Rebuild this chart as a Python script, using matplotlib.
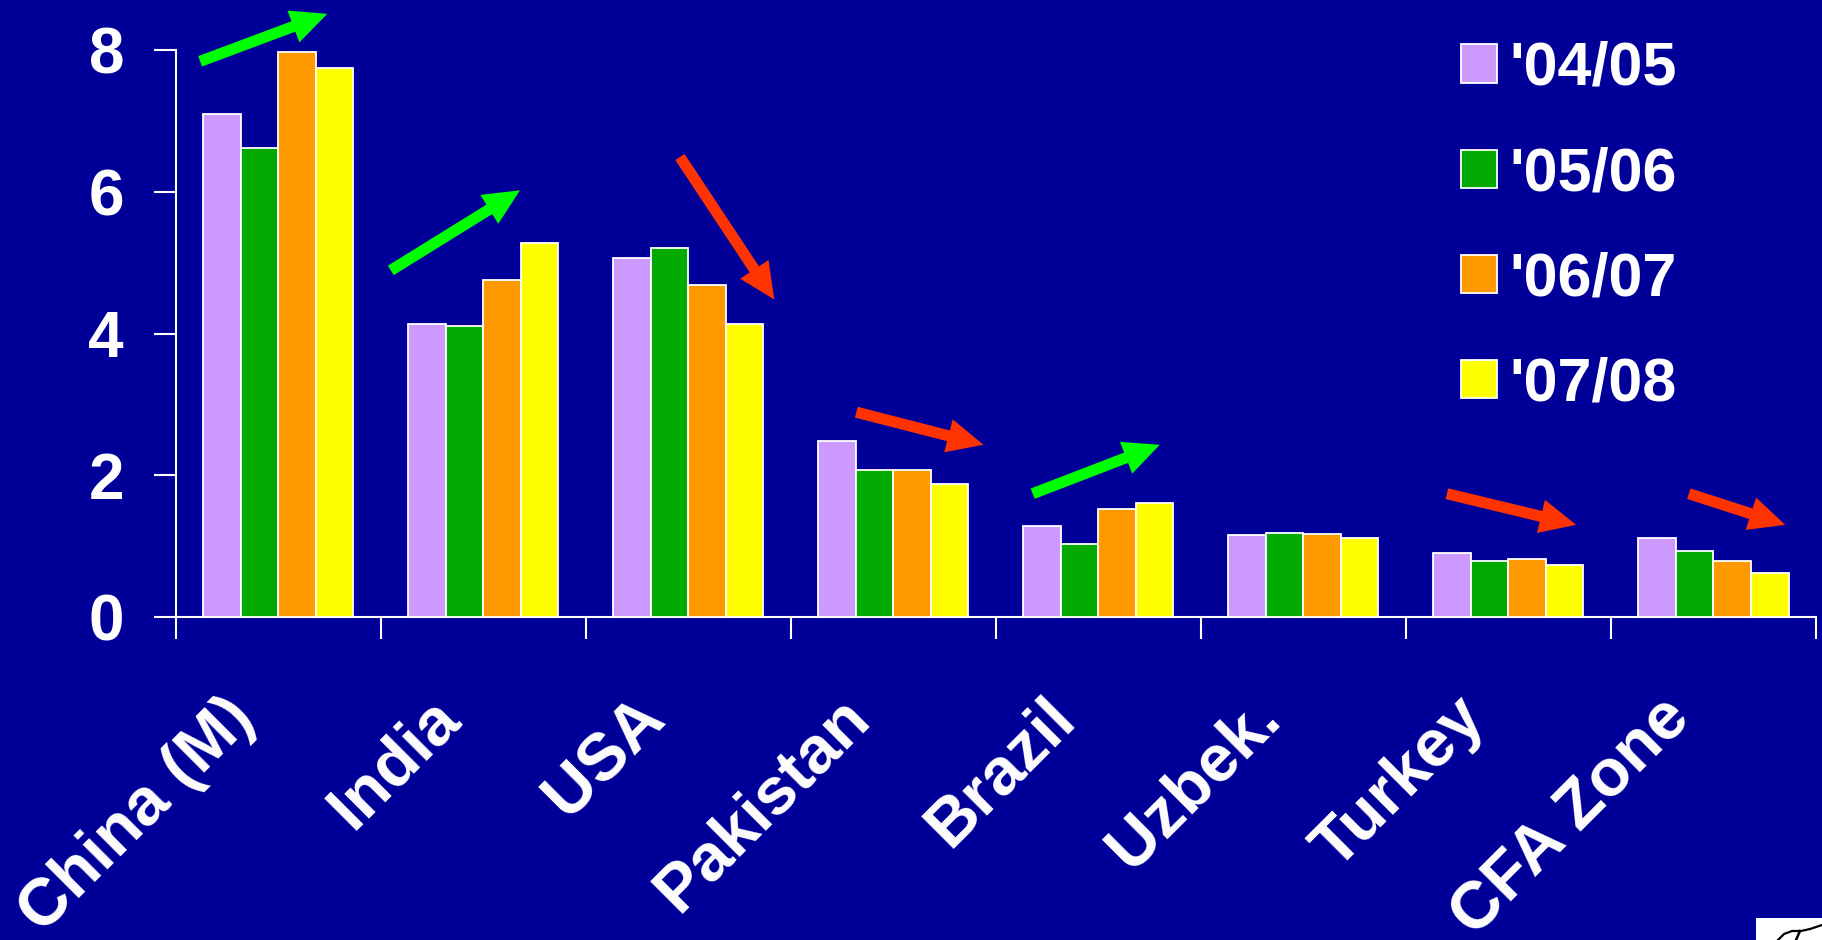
import matplotlib
matplotlib.use("Agg")
import matplotlib.pyplot as plt
from matplotlib.patches import FancyArrowPatch, Patch, Rectangle
from matplotlib.lines import Line2D
from matplotlib.transforms import ScaledTranslation
import numpy as np

# Cotton production by country (million tonnes), four marketing years
countries = ["China (M)", "India", "USA", "Pakistan", "Brazil", "Uzbek.", "Turkey", "CFA Zone"]
seasons = ["'04/05", "'05/06", "'06/07", "'07/08"]
y0405 = [7.10, 4.13, 5.07, 2.49, 1.28, 1.15, 0.91, 1.12]
y0506 = [6.62, 4.10, 5.20, 2.08, 1.03, 1.19, 0.79, 0.93]
y0607 = [7.97, 4.75, 4.69, 2.08, 1.52, 1.17, 0.82, 0.79]
y0708 = [7.74, 5.28, 4.13, 1.87, 1.61, 1.12, 0.74, 0.62]
yticks = [0, 2, 4, 6, 8]

# Trend arrows: (tail x, tail y, head x, head y, rising?)
trend_arrows = [
    (-0.38, 7.84, 0.24, 8.51, True),
    (0.55, 4.89, 1.18, 6.02, True),
    (1.96, 6.49, 2.42, 4.48, False),
    (2.82, 2.89, 3.44, 2.43, False),
    (3.68, 1.74, 4.30, 2.43, True),
    (5.70, 1.74, 6.33, 1.30, False),
    (6.88, 1.74, 7.35, 1.30, False),
]

BG = "#000099"
bar_colors = ["#CC99FF", "#00AA00", "#FF9900", "#FFFF00"]
UP, DOWN = "#00FF00", "#FF3300"
FONT = "Liberation Sans"

W, H = 1822, 940
fig = plt.figure(figsize=(W / 100, H / 100), dpi=100, facecolor=BG)
ax = fig.add_axes([175.5 / W, 1 - 617 / H, (1816 - 175.5) / W, (617 - 50) / H])
ax.set_facecolor(BG)

x = np.arange(len(countries))
bw = 0.183
series = [y0405, y0506, y0607, y0708]
for i, (vals, col, lab) in enumerate(zip(series, bar_colors, seasons)):
    ax.bar(x + (i - 1.5) * bw, vals, width=bw, color=col, edgecolor="white",
           linewidth=1.3, label=lab, zorder=3)

ax.set_xlim(-0.5, len(countries) - 0.5)
ax.set_ylim(0, 8)

for s in ["top", "right"]:
    ax.spines[s].set_visible(False)
for s in ["left", "bottom"]:
    ax.spines[s].set_color("white")
    ax.spines[s].set_linewidth(1.5)

ax.set_yticks(yticks)
ax.set_yticklabels([str(v) for v in yticks])
ax.tick_params(axis="y", colors="white", length=16, width=1.5, pad=21,
               labelsize=46)
for lbl in ax.get_yticklabels():
    lbl.set_fontfamily(FONT)
    lbl.set_fontweight("bold")

ax.set_xticks(x)
ax.set_xticks(np.arange(-0.5, len(countries)), minor=True)
ax.tick_params(axis="x", which="major", length=0, pad=50, colors="white", labelsize=48)
ax.tick_params(axis="x", which="minor", length=16, width=1.5, color="white")
ax.set_xticklabels(countries, rotation=45, ha="right", va="top",
                   rotation_mode="anchor")
shift = ScaledTranslation(-55 / 100, 0, fig.dpi_scale_trans)
for lbl in ax.get_xticklabels():
    lbl.set_fontfamily(FONT)
    lbl.set_fontweight("bold")
    lbl.set_transform(lbl.get_transform() + shift)

for x0, y0, x1, y1, rising in trend_arrows:
    arr = FancyArrowPatch((x0, y0), (x1, y1),
                          arrowstyle="simple,head_length=2.6,head_width=2.45,tail_width=0.8",
                          mutation_scale=10, color=UP if rising else DOWN,
                          linewidth=0, clip_on=False, zorder=4,
                          shrinkA=0, shrinkB=0)
    ax.add_patch(arr)

handles = [Patch(facecolor=c, edgecolor="white", linewidth=1.3) for c in bar_colors]
leg = fig.legend(handles, seasons, loc="upper left",
                 bbox_to_anchor=(1461 / W, 1 - 41 / H), frameon=False,
                 borderpad=0, borderaxespad=0, handlelength=0.59, handleheight=0.59,
                 handletextpad=0.2, labelspacing=0.79,
                 prop={"family": FONT, "weight": "bold", "size": 44})
for t in leg.get_texts():
    t.set_color("white")

# corner logo tab with a pen swash
fig.patches.append(Rectangle((1756 / W, 0), (W - 1756) / W, 22 / H,
                             transform=fig.transFigure, facecolor="white",
                             edgecolor="none", zorder=5))
swash_x = np.array([1778, 1784, 1792, 1801, 1810, 1822]) / W
swash_y = 1 - np.array([940, 934, 931, 931, 929, 925]) / H
fig.lines.append(Line2D(swash_x, swash_y, transform=fig.transFigure,
                        color="black", linewidth=1.6, zorder=6))
fig.lines.append(Line2D(np.array([1800, 1796]) / W, 1 - np.array([931, 940]) / H,
                        transform=fig.transFigure, color="black",
                        linewidth=1.8, zorder=6))

fig.savefig("out.png", dpi=100, facecolor=BG)
